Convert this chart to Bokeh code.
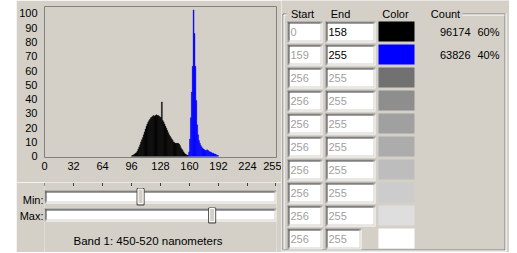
from bokeh.plotting import figure
from bokeh.layouts import row, column
from bokeh.models import Range1d, FixedTicker, Spacer, ColumnDataSource, LinearAxis
from bokeh.embed import file_html
from bokeh.resources import INLINE
from bokeh.core.properties import value

# ---------------- data ----------------
black_bins = list(range(96, 159))
black_counts = [0.3, 0.6, 1, 1.5, 2, 2.5, 3.5, 5, 6.5, 8, 10, 11.5,
                13, 15, 17, 19, 21, 22.5, 24, 25, 26, 27, 27.5, 28,
                28.5, 28, 28.5, 29, 28.5, 28.5, 28, 27.5, 27, 38, 25, 24,
                22.5, 21, 19.5, 18, 16.5, 15, 14, 13, 12, 11, 10, 9.5,
                9, 9, 9, 9, 8.5, 7.5, 6, 5, 4, 3, 2, 1.5,
                1, 0.8, 0.6]
blue_bins = list(range(159, 192))
blue_counts = [3, 12, 27, 45, 63, 102.5, 86, 63, 39, 22, 15, 11,
               9, 7.5, 6.5, 5.5, 5, 4.5, 4, 4, 4.5, 4, 3.5, 3,
               3, 2.5, 2, 2, 1.5, 1.5, 1, 0.7, 0.5]
x_ticks = [0, 32, 64, 96, 128, 160, 192, 224, 255]
y_ticks = [0, 10, 20, 30, 40, 50, 60, 70, 80, 90, 100]
headers = ["Start", "End", "Color", "Count"]
start_values = ["0", "159", "256", "256", "256", "256", "256", "256", "256", "256"]
end_values = ["158", "255", "255", "255", "255", "255", "255", "255", "255", "255"]
class_colors = ["#000000", "#0000ff", "#717171", "#8e8e8e", "#a0a0a0",
                "#acacac", "#bdbdbd", "#cccccc", "#dedede", "#ffffff"]
class_counts = ["96174", "63826"]
class_percents = ["60%", "40%"]
slider_names = ["Min:", "Max:"]
min_value = 106
max_value = 185
band_caption = "Band 1: 450-520 nanometers"

# ---------------- style ----------------
BG = "#d4d0c8"
FONT = "Liberation Sans"
FS = "11px"
DIS = "#a0a0a0"
H = 252


def base(p):
    p.background_fill_color = BG
    p.border_fill_color = BG
    p.outline_line_color = None
    return p


def plain_axis(ax):
    ax.axis_line_color = None
    ax.major_tick_line_color = None
    ax.minor_tick_line_color = None
    ax.major_tick_in = 0
    ax.major_tick_out = 0
    ax.minor_tick_in = 0
    ax.minor_tick_out = 0
    ax.major_label_text_font = FONT
    ax.major_label_text_font_size = FS
    ax.major_label_text_color = "black"


def sunken(p, lefts, rights, tops, bottoms, kx=1.0):
    p.quad(left=lefts, right=rights, top=tops, bottom=bottoms,
           fill_color="white", line_color=None)
    L, R, T, B = lefts, rights, tops, bottoms
    n = range(len(L))
    p.segment(x0=[L[i] for i in n], y0=[T[i] + 0.5 for i in n],
              x1=[R[i] for i in n], y1=[T[i] + 0.5 for i in n], line_color="#808080", line_width=1)
    p.segment(x0=[L[i] + 0.5 * kx for i in n], y0=[T[i] for i in n],
              x1=[L[i] + 0.5 * kx for i in n], y1=[B[i] for i in n], line_color="#808080", line_width=1)
    p.segment(x0=[L[i] + kx for i in n], y0=[T[i] + 1.5 for i in n],
              x1=[R[i] - kx for i in n], y1=[T[i] + 1.5 for i in n], line_color="#404040", line_width=1)
    p.segment(x0=[L[i] + 1.5 * kx for i in n], y0=[T[i] + 1 for i in n],
              x1=[L[i] + 1.5 * kx for i in n], y1=[B[i] - 1 for i in n], line_color="#404040", line_width=1)
    p.segment(x0=[L[i] + kx for i in n], y0=[B[i] - 1.5 for i in n],
              x1=[R[i] - kx for i in n], y1=[B[i] - 1.5 for i in n], line_color=BG, line_width=1)
    p.segment(x0=[R[i] - 1.5 * kx for i in n], y0=[T[i] + 1 for i in n],
              x1=[R[i] - 1.5 * kx for i in n], y1=[B[i] - 1 for i in n], line_color=BG, line_width=1)


# ---------------- histogram ----------------
PX = 232 / 256  # pixels per value unit in the histogram frame
hist = figure(width=265, height=182, x_range=Range1d(0, 256), y_range=Range1d(-0.9, 104.9),
              output_backend="svg", toolbar_location=None,
              min_border_left=28, min_border_right=5, min_border_top=6, min_border_bottom=25)
base(hist)
hist.outline_line_color = "#808080"
hist.quad(left=black_bins, right=[b + 1 for b in black_bins], top=black_counts, bottom=0,
          fill_color="black", line_color="black", line_width=0.4)
hist.quad(left=blue_bins, right=[b + 1 for b in blue_bins], top=blue_counts, bottom=0,
          fill_color="#0000ff", line_color="#0000ff", line_width=0.4)
hist.xgrid.visible = False
hist.ygrid.visible = False
plain_axis(hist.xaxis[0])
plain_axis(hist.yaxis[0])
hist.xaxis.ticker = FixedTicker(ticks=x_ticks)
hist.yaxis.ticker = FixedTicker(ticks=y_ticks)
hist.xaxis.major_label_standoff = 4
hist.yaxis.major_label_standoff = 7

# ---------------- sliders (frame aligned with the histogram frame) ----------------
slider_rows = [199, 215.5]
sl = figure(width=265, height=H - 182, x_range=Range1d(0, 256), y_range=Range1d(H, 182),
            x_axis_type=None, y_axis_type=None, output_backend="svg", toolbar_location=None,
            min_border_left=28, min_border_right=5, min_border_top=0, min_border_bottom=0)
base(sl)
yax = LinearAxis(ticker=FixedTicker(ticks=slider_rows),
                 major_label_overrides={slider_rows[i]: slider_names[i] for i in range(2)})
plain_axis(yax)
yax.major_label_standoff = 1
sl.add_layout(yax, "left")
sl.grid.visible = False
sl.segment(x0=x_ticks, y0=182.5, x1=x_ticks, y1=185.5, line_color="#404040", line_width=1)
kx = 1 / PX
tr_l = 0.0
tr_r = 232 * kx
sunken(sl, [tr_l, tr_l], [tr_r, tr_r], [190, 208], [203, 221], kx=kx)
sl.rect(x=[min_value, max_value], y=[196.25, 215], width=7, width_units="screen",
        height=[16.5, 15], fill_color=BG, line_color="#404040", line_width=1)
sl.rect(x=[min_value, max_value], y=[195.75, 214.5], width=5, width_units="screen",
        height=[14.5, 13], fill_color=None, line_color="white", line_width=1)
cap_x = (-28 * kx + 256 + 5 * kx) / 2 - kx
sl.text(x=[cap_x], y=[240], text=[band_caption],
        text_font=value(FONT), text_font_size="11.5px", text_color="black",
        text_align="center", text_baseline="middle")

# ---------------- class table ----------------
rf = figure(width=228, height=H, x_range=Range1d(281, 509), y_range=Range1d(H, 0),
            x_axis_type=None, y_axis_type=None, output_backend="svg", toolbar_location=None,
            min_border=0)
base(rf)
rf.grid.visible = False
rf.segment(x0=[282.5, 282.5, 462, 504.5, 282.5], y0=[13.5, 13.5, 13.5, 13.5, 249.5],
           x1=[282.5, 286, 505, 504.5, 505], y1=[249.5, 13.5, 13.5, 249.5, 249.5],
           line_color="#808080", line_width=1)
rf.segment(x0=[283.5, 283.5, 462, 505.5, 282], y0=[14.5, 14.5, 14.5, 13, 250.5],
           x1=[283.5, 286, 504, 505.5, 506], y1=[249, 14.5, 14.5, 251, 250.5],
           line_color="white", line_width=1)
rf.text(x=[302, 340, 395, 445], y=[13, 13, 13, 13], text=headers,
        text_font=value(FONT), text_font_size=FS, text_color="black",
        text_align="center", text_baseline="middle")

n_rows = len(start_values)
tops = [21 + 23 * i for i in range(n_rows)]
bots = [t + 21 for t in tops]
mids = [t + 10.5 for t in tops]
s_l = [287] * n_rows
s_r = [322] * n_rows
e_l = [325] * n_rows
e_r = [375] * (n_rows - 1) + [361]
sunken(rf, s_l, s_r, tops, bots)
sunken(rf, e_l, e_r, tops, bots)
rf.quad(left=378, right=414, top=tops, bottom=[t + 20 for t in tops],
        fill_color=class_colors, line_color=None)

src_s = ColumnDataSource(dict(x=[l + 3 for l in s_l], y=mids, t=start_values,
                              c=[DIS] * n_rows))
src_e = ColumnDataSource(dict(x=[l + 3 for l in e_l], y=mids, t=end_values,
                              c=["black" if i < len(class_counts) else DIS for i in range(n_rows)]))
for src in (src_s, src_e):
    rf.text(x="x", y="y", text="t", text_color="c", source=src,
            text_font=value(FONT), text_font_size=FS, text_align="left", text_baseline="middle")
rf.text(x=[470] * len(class_counts), y=mids[:len(class_counts)], text=class_counts,
        text_font=value(FONT), text_font_size=FS, text_color="black",
        text_align="right", text_baseline="middle")
rf.text(x=[499] * len(class_percents), y=mids[:len(class_percents)], text=class_percents,
        text_font=value(FONT), text_font_size=FS, text_color="black",
        text_align="right", text_baseline="middle")

layout = row(Spacer(width=16, height=H), column(hist, sl), rf)
open("out.html", "w").write(file_html(layout, INLINE))
